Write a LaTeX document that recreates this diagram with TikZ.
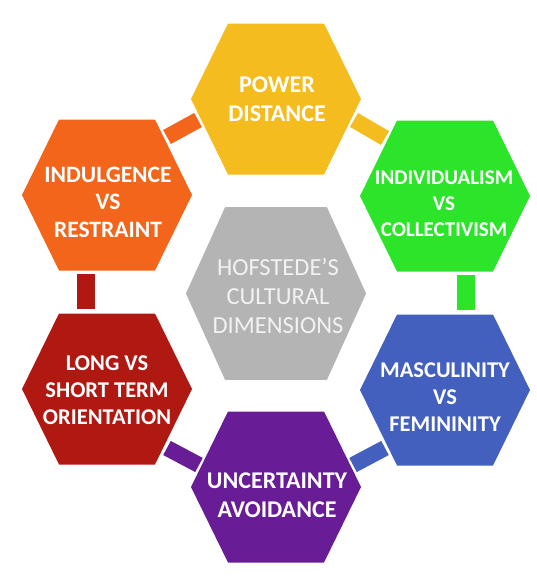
\documentclass[tikz,border=0pt]{standalone}
\usepackage{fontspec}
\setmainfont{Carlito}
\definecolor{powerc}{HTML}{F5BC1F}
\definecolor{indulc}{HTML}{F2651A}
\definecolor{indivc}{HTML}{2CE52A}
\definecolor{longc}{HTML}{B01812}
\definecolor{uncertc}{HTML}{681D96}
\definecolor{mascc}{HTML}{4460BE}
\definecolor{hubc}{HTML}{B4B4B4}
\definecolor{hubtxt}{HTML}{F2F2F2}
\begin{document}
\begin{tikzpicture}[x=1pt,y=-1pt,
  hexa/.pic={\fill (-85,0) -- (-48,-75.5) -- (48,-75.5) -- (85,0) -- (48,75.5) -- (-48,75.5) -- cycle;},
  hextext/.style args={#1/#2}{text=white,align=center,inner sep=0pt,font=\fontsize{#1}{#2}\selectfont\bfseries},
  hubtext/.style={text=hubtxt,align=center,inner sep=0pt,font=\fontsize{24.5}{29}\selectfont},
  bar/.style={line width=16pt},
  vbar/.style={line width=18pt}]
\useasboundingbox (0,0) rectangle (537,584);
% hexagons
\pic[fill=hubc,xscale=1.06,yscale=1.145] at (276,293.5) {hexa};
\pic[fill=powerc] at (276,99) {hexa};
\pic[fill=indulc] at (107,195) {hexa};
\pic[fill=indivc] at (445,196) {hexa};
\pic[fill=longc] at (107,389) {hexa};
\pic[fill=mascc] at (445,390) {hexa};
\pic[fill=uncertc] at (276,487) {hexa};
% labels
\node[hubtext] (hub) at (278,296) {HOFSTEDE’S\\CULTURAL\\DIMENSIONS};
\node[hextext=24/29] (power) at (277,99) {POWER\\DISTANCE};
\node[hextext=23.5/27.5] (indul) at (108,202) {INDULGENCE\\VS\\RESTRAINT};
\node[hextext=21/26] (indiv) at (444,204) {INDIVIDUALISM\\VS\\COLLECTIVISM};
\node[hextext=22.5/26.7] (long) at (107,390) {LONG VS\\SHORT TERM\\ORIENTATION};
\node[hextext=22.5/27] (masc) at (445,397) {MASCULINITY\\VS\\FEMININITY};
\node[hextext=24/29] (uncert) at (277,495) {UNCERTAINTY\\AVOIDANCE};
% links
\coordinate (ip1) at (167,137); \coordinate (ip2) at (198,120);
\coordinate (pi1) at (354,120); \coordinate (pi2) at (385,138);
\coordinate (il1) at (85.5,274); \coordinate (il2) at (85.5,309);
\coordinate (im1) at (466,275); \coordinate (im2) at (466,310);
\coordinate (lu1) at (167,448); \coordinate (lu2) at (199,465);
\coordinate (mu1) at (385,448); \coordinate (mu2) at (353,465);
\draw[bar,indulc] (ip1) -- (ip2);
\draw[bar,powerc] (pi1) -- (pi2);
\draw[vbar,longc] (il1) -- (il2);
\draw[vbar,indivc] (im1) -- (im2);
\draw[bar,uncertc] (lu1) -- (lu2);
\draw[bar,mascc] (mu1) -- (mu2);
\end{tikzpicture}
\end{document}
